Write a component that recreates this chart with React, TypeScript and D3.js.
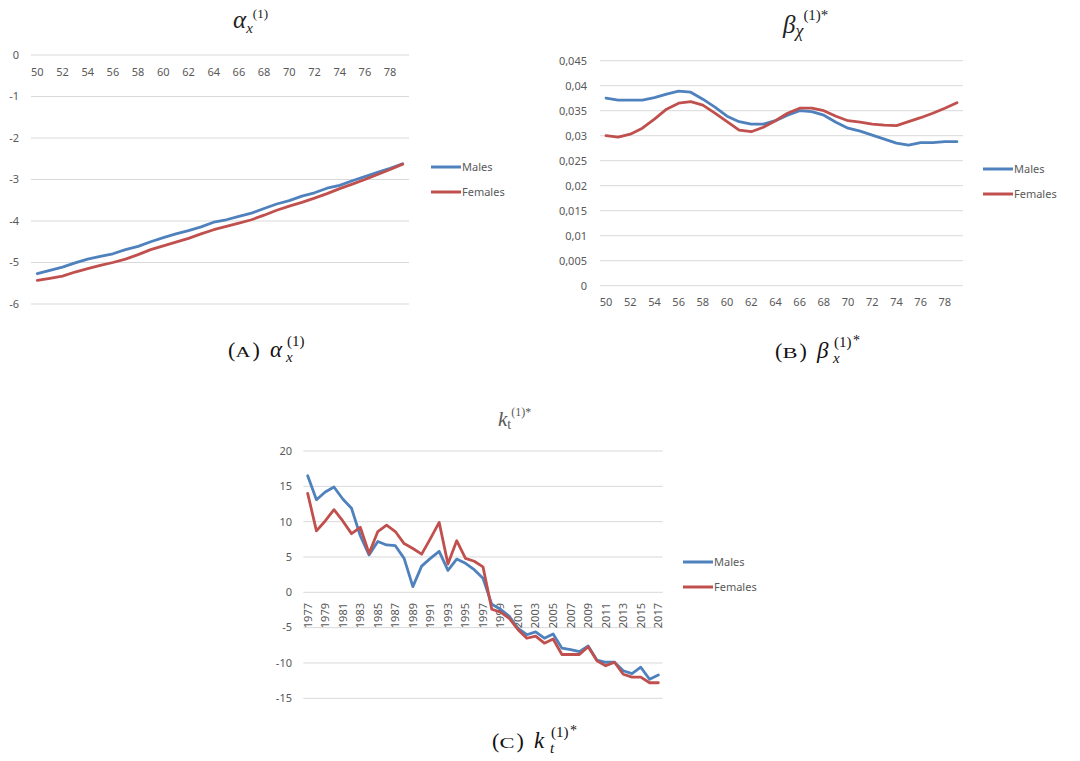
import React from "react";
import * as d3 from "d3";

// ---------- DATA ----------
const AGES = [50, 51, 52, 53, 54, 55, 56, 57, 58, 59, 60, 61, 62, 63, 64, 65, 66, 67, 68, 69, 70, 71, 72, 73, 74, 75, 76, 77, 78, 79];

const ALPHA_MALES = [-5.27, -5.19, -5.11, -5.01, -4.92, -4.85, -4.79, -4.69, -4.61, -4.5, -4.4, -4.31, -4.23, -4.14, -4.03, -3.97, -3.89, -3.81, -3.7, -3.59, -3.51, -3.4, -3.32, -3.21, -3.14, -3.03, -2.93, -2.83, -2.73, -2.62];
const ALPHA_FEMALES = [-5.43, -5.38, -5.33, -5.23, -5.15, -5.07, -5.0, -4.92, -4.81, -4.69, -4.6, -4.51, -4.42, -4.31, -4.21, -4.13, -4.05, -3.97, -3.86, -3.74, -3.64, -3.55, -3.45, -3.34, -3.22, -3.11, -3.0, -2.88, -2.76, -2.63];
const ALPHA_TICKS = [0, -1, -2, -3, -4, -5, -6];

const BETA_MALES = [0.03753, 0.0371, 0.0371, 0.0371, 0.0376, 0.0383, 0.0389, 0.0387, 0.0373, 0.0357, 0.0339, 0.0328, 0.0323, 0.0323, 0.033, 0.0341, 0.035, 0.0348, 0.0341, 0.0327, 0.0315, 0.0309, 0.0301, 0.0293, 0.0285, 0.0281, 0.0286, 0.0286, 0.0288, 0.0288];
const BETA_FEMALES = [0.03, 0.0297, 0.0303, 0.0315, 0.0333, 0.0353, 0.0365, 0.0368, 0.0361, 0.0345, 0.0328, 0.0311, 0.0308, 0.0317, 0.033, 0.0345, 0.0355, 0.0355, 0.035, 0.0339, 0.033, 0.0327, 0.0323, 0.0321, 0.032, 0.0328, 0.0336, 0.0345, 0.0355, 0.0366];
const BETA_TICKS = [0, 0.005, 0.01, 0.015, 0.02, 0.025, 0.03, 0.035, 0.04, 0.045];

const YEARS = [1977, 1978, 1979, 1980, 1981, 1982, 1983, 1984, 1985, 1986, 1987, 1988, 1989, 1990, 1991, 1992, 1993, 1994, 1995, 1996, 1997, 1998, 1999, 2000, 2001, 2002, 2003, 2004, 2005, 2006, 2007, 2008, 2009, 2010, 2011, 2012, 2013, 2014, 2015, 2016, 2017];
const K_MALES = [16.5, 13.1, 14.2, 14.9, 13.2, 11.9, 8.0, 5.3, 7.2, 6.7, 6.6, 4.8, 0.8, 3.7, 4.8, 5.8, 3.1, 4.7, 4.1, 3.2, 2.0, -1.7, -2.4, -3.4, -5.1, -6.0, -5.6, -6.5, -5.9, -7.9, -8.1, -8.4, -7.6, -9.6, -9.9, -9.9, -11.1, -11.5, -10.6, -12.3, -11.7];
const K_FEMALES = [14.0, 8.7, 10.1, 11.7, 10.1, 8.3, 9.2, 5.5, 8.6, 9.5, 8.6, 6.9, 6.2, 5.4, 7.6, 9.9, 4.0, 7.3, 4.8, 4.4, 3.6, -2.4, -2.8, -3.7, -5.3, -6.5, -6.2, -7.2, -6.6, -8.8, -8.8, -8.8, -7.7, -9.7, -10.4, -9.9, -11.6, -12.0, -12.0, -12.8, -12.8];
const K_TICKS = [20, 15, 10, 5, 0, -5, -10, -15];

const SERIES_NAMES = ["Males", "Females"];

// ---------- STYLE ----------
const BLUE = "#4F81BD";
const RED = "#C0504D";
const GRID = "#D9D9D9";
const TXT = "#595959";
const SANS = "'Noto Sans', 'Liberation Sans', sans-serif";
const SERIF = "'Liberation Serif', 'DejaVu Serif', serif";

type PanelProps = {
  cats: number[];
  males: number[];
  females: number[];
  x0: number;
  x1: number;
  yTopPx: number;
  yBotPx: number;
  yDomain: [number, number];
  yTicks: number[];
  yFmt: (v: number) => string;
  yLabelX: number;
  xLabelY: number;
  rotated: boolean;
  legendX: number;
  legendY: number;
};

function LinePanel(p: PanelProps) {
  const x = d3.scaleBand<number>().domain(p.cats).range([p.x0, p.x1]).paddingInner(0).paddingOuter(0);
  const y = d3.scaleLinear().domain(p.yDomain).range([p.yBotPx, p.yTopPx]);
  const cx = (c: number) => (x(c) as number) + x.bandwidth() / 2;
  const line = d3
    .line<number>()
    .x((_, i) => cx(p.cats[i]))
    .y((d) => y(d));
  const labelCats = p.cats.filter((_, i) => i % 2 === 0);
  const series = [
    { name: SERIES_NAMES[0], data: p.males, color: BLUE },
    { name: SERIES_NAMES[1], data: p.females, color: RED },
  ];
  return (
    <g>
      {p.yTicks.map((t) => (
        <g key={t}>
          <line x1={p.x0} x2={p.x1} y1={y(t)} y2={y(t)} stroke={GRID} strokeWidth={1} />
          <text x={p.yLabelX} y={y(t)} dy="0.35em" textAnchor="end" fontFamily={SANS} fontSize={11} fill={TXT}>
            {p.yFmt(t)}
          </text>
        </g>
      ))}
      {labelCats.map((c) =>
        p.rotated ? (
          <g key={c} transform={`translate(${cx(c)},${p.xLabelY})`}>
            <text
              transform="rotate(-90)"
              x={0}
              y={0}
              dy="0.35em"
              textAnchor="end"
              fontFamily={SANS}
              fontSize={11}
              fill={TXT}
            >
              {c}
            </text>
          </g>
        ) : (
          <text key={c} x={cx(c)} y={p.xLabelY} dy="0.35em" textAnchor="middle" fontFamily={SANS} fontSize={11} fill={TXT}>
            {c}
          </text>
        )
      )}
      {series.map((s) => (
        <path
          key={s.name}
          d={line(s.data) || ""}
          fill="none"
          stroke={s.color}
          strokeWidth={2.8}
          strokeLinejoin="round"
          strokeLinecap="round"
        />
      ))}
      {series.map((s, i) => (
        <g key={"lg" + s.name}>
          <line x1={p.legendX} x2={p.legendX + 30} y1={p.legendY + i * 25} y2={p.legendY + i * 25} stroke={s.color} strokeWidth={3} />
          <text x={p.legendX + 31} y={p.legendY + i * 25} dy="0.35em" fontFamily={SANS} fontSize={11} fill={TXT}>
            {s.name}
          </text>
        </g>
      ))}
    </g>
  );
}

const fmtComma = (v: number) => String(+v.toFixed(3)).replace(".", ",");

function Caption(props: {
  x: number;
  y: number;
  letter: string;
  sym: string;
  sub: string;
  star: boolean;
}) {
  const { x, y, letter, sym, sub, star } = props;
  return (
    <g fontFamily={SERIF} fill="#111">
      <text x={x} y={y} fontSize={22}>(</text>
      <text x={x + 7.5} y={y} fontSize={15} textLength={15} lengthAdjust="spacingAndGlyphs">{letter}</text>
      <text x={x + 24.5} y={y} fontSize={22}>)</text>
      <text x={x + 42} y={y} fontSize={23} fontStyle="italic">{sym}</text>
      <text x={x + 58} y={y + 5} fontSize={15} fontStyle="italic">{sub}</text>
      <text x={x + 59} y={y - 11} fontSize={15}>(1)</text>
      {star && (
        <text x={x + 78} y={y - 13} fontSize={14}>*</text>
      )}
    </g>
  );
}

export default function App() {
  return (
    <svg
      width={1080}
      height={761}
      style={{ position: "absolute", left: 0, top: 0, background: "#fff" }}
    >
      <rect x={0} y={0} width={1080} height={761} fill="#fff" />

      {/* Panel A */}
      <text x={233} y={28} fontFamily={SERIF} fill="#222">
        <tspan fontSize={25} fontStyle="italic">α</tspan>
        <tspan fontSize={15} fontStyle="italic" dy={5}>x</tspan>
        <tspan fontSize={13} dy={-15}>(1)</tspan>
      </text>
      <LinePanel
        cats={AGES}
        males={ALPHA_MALES}
        females={ALPHA_FEMALES}
        x0={31}
        x1={409}
        yTopPx={55}
        yBotPx={304}
        yDomain={[-6, 0]}
        yTicks={ALPHA_TICKS}
        yFmt={(v) => String(v)}
        yLabelX={19}
        xLabelY={72}
        rotated={false}
        legendX={431}
        legendY={167}
      />

      {/* Panel B */}
      <text x={783} y={33} fontFamily={SERIF} fill="#222">
        <tspan fontSize={25} fontStyle="italic">β</tspan>
        <tspan fontSize={18} fontStyle="italic" dy={4}>χ</tspan>
        <tspan fontSize={15} dy={-17}>(1)*</tspan>
      </text>
      <LinePanel
        cats={AGES}
        males={BETA_MALES}
        females={BETA_FEMALES}
        x0={600}
        x1={963}
        yTopPx={60.7}
        yBotPx={285.7}
        yDomain={[0, 0.045]}
        yTicks={BETA_TICKS}
        yFmt={fmtComma}
        yLabelX={587}
        xLabelY={302}
        rotated={false}
        legendX={983}
        legendY={169}
      />

      {/* Panel C */}
      <text x={498} y={426} fontFamily={SERIF} fill={TXT}>
        <tspan fontSize={21} fontStyle="italic">k</tspan>
        <tspan fontSize={14} dy={3}>t</tspan>
        <tspan fontSize={12} dy={-13}>(1)*</tspan>
      </text>
      <LinePanel
        cats={YEARS}
        males={K_MALES}
        females={K_FEMALES}
        x0={303.3}
        x1={662.7}
        yTopPx={451}
        yBotPx={698.3}
        yDomain={[-15, 20]}
        yTicks={K_TICKS}
        yFmt={(v) => String(v)}
        yLabelX={292}
        xLabelY={603}
        rotated={true}
        legendX={683}
        legendY={562}
      />

      {/* Captions */}
      <Caption x={228} y={357} letter="A" sym="α" sub="x" star={false} />
      <Caption x={775} y={358} letter="B" sym="β" sub="x" star={true} />
      <Caption x={492} y={748} letter="C" sym="k" sub="t" star={true} />
    </svg>
  );
}
